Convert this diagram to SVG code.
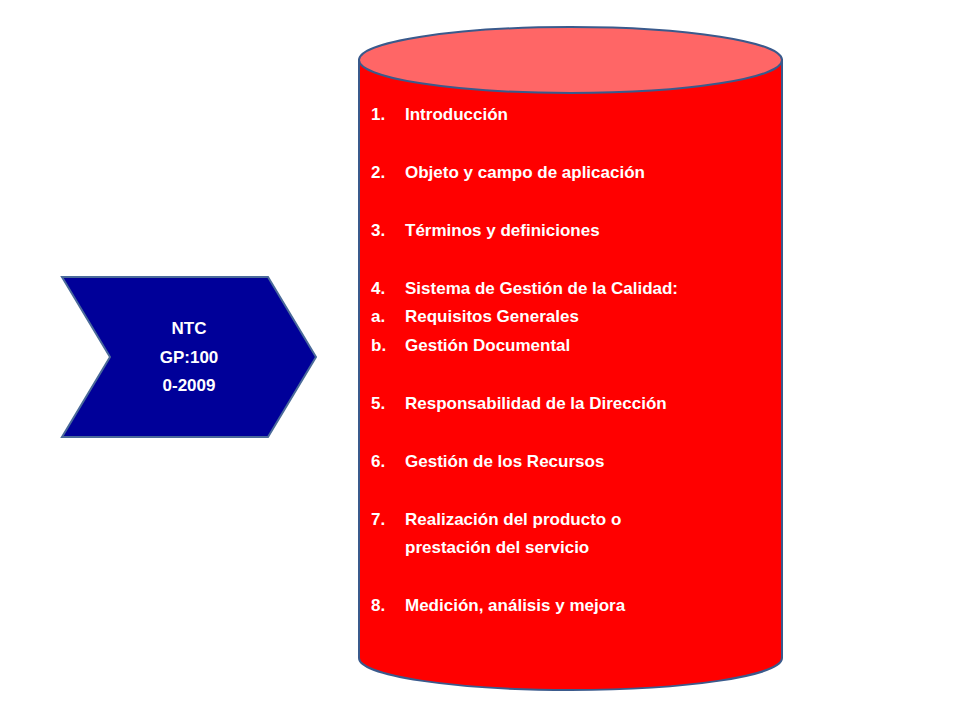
<svg xmlns="http://www.w3.org/2000/svg" width="960" height="720" viewBox="0 0 960 720">
<style>
.t{font-family:"Liberation Sans",Arial,sans-serif;font-weight:bold;font-size:17px;fill:#fff}
.w{text-anchor:middle}
</style>
<rect width="960" height="720" fill="#fff"/>
<g id="chevron">
<polygon points="62,277 268,277 316,357 268,437 62,437 110,357" fill="#000099" stroke="#4A6A9A" stroke-width="2"/>
<text class="t w" x="189" y="334">NTC</text>
<text class="t w" x="189" y="363">GP:100</text>
<text class="t w" x="189" y="391">0-2009</text>
</g>
<g id="cylinder">
<path d="M359,60 L359,658 A211.5,32 0 0 0 782,658 L782,60 Z" fill="#FF0000" stroke="#3A5A8C" stroke-width="2"/>
<ellipse cx="570.5" cy="60" rx="211.5" ry="33" fill="#FF6666" stroke="#3A5A8C" stroke-width="2"/>
<g class="t">
<text x="371" y="120">1.</text><text x="405" y="120">Introducción</text>
<text x="371" y="178">2.</text><text x="405" y="178">Objeto y campo de aplicación</text>
<text x="371" y="236">3.</text><text x="405" y="236">Términos y definiciones</text>
<text x="371" y="294">4.</text><text x="405" y="294">Sistema de Gestión de la Calidad:</text>
<text x="371" y="322">a.</text><text x="405" y="322">Requisitos Generales</text>
<text x="371" y="351">b.</text><text x="405" y="351">Gestión Documental</text>
<text x="371" y="409">5.</text><text x="405" y="409">Responsabilidad de la Dirección</text>
<text x="371" y="467">6.</text><text x="405" y="467">Gestión de los Recursos</text>
<text x="371" y="525">7.</text><text x="405" y="525">Realización del producto o</text>
<text x="405" y="553">prestación del servicio</text>
<text x="371" y="611">8.</text><text x="405" y="611">Medición, análisis y mejora</text>
</g>
</g>
<g id="connectors"/>
</svg>
